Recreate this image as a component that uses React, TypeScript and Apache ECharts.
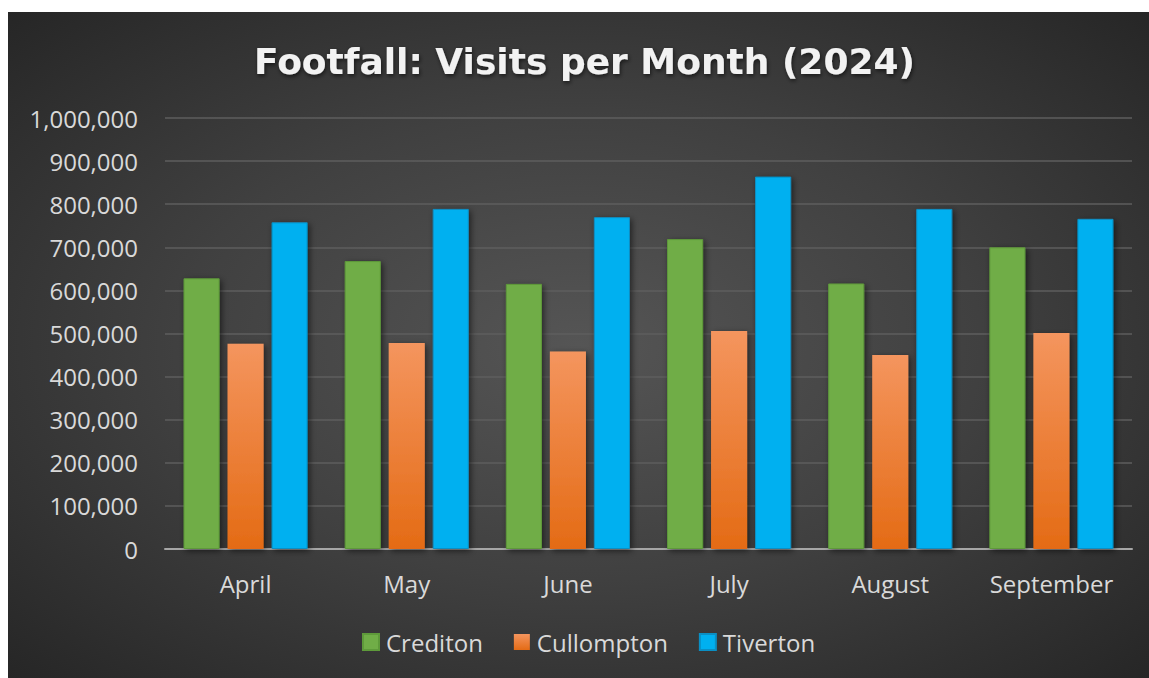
import React, { useEffect, useRef } from "react";
import * as echarts from "echarts";

const months = ["April", "May", "June", "July", "August", "September"];
const crediton = [628000, 668000, 615000, 719000, 616000, 700000];
const cullompton = [476000, 478000, 458000, 506000, 450000, 501000];
const tiverton = [758000, 789000, 770000, 864000, 789000, 766000];
const yTicks = { min: 0, max: 1000000, interval: 100000 };

const FONT = "'Open Sans', 'Noto Sans', sans-serif";

export default function App() {
  const ref = useRef<HTMLDivElement>(null);
  useEffect(() => {
    if (!ref.current) return;
    const chart = echarts.init(ref.current, undefined, { renderer: "svg" });
    const shadow = {
      shadowBlur: 6,
      shadowColor: "rgba(0,0,0,0.55)",
      shadowOffsetX: 2,
      shadowOffsetY: 2,
    };
    const orangeGrad = new echarts.graphic.LinearGradient(0, 0, 0, 1, [
      { offset: 0, color: "#f4955e" },
      { offset: 1, color: "#e46b15" },
    ]);
    chart.setOption({
      animation: false,
      backgroundColor: "transparent",
      title: {
        text: "Footfall: Visits per Month (2024)",
        left: 241,
        top: 26,
        textStyle: {
          color: "#f2f2f2",
          fontFamily: "'DejaVu Sans', sans-serif",
          fontWeight: "bold",
          fontSize: 36,
          textShadowColor: "rgba(0,0,0,0.6)",
          textShadowBlur: 4,
          textShadowOffsetX: 1,
          textShadowOffsetY: 2,
        },
      },
      grid: { left: 157, right: 17, top: 106, bottom: 129 },
      legend: {
        bottom: 19,
        left: 349,
        itemWidth: 16,
        itemHeight: 16,
        itemGap: 31,
        icon: "rect",
        textStyle: { color: "#d9d9d9", fontFamily: FONT, fontSize: 24, padding: [0, 0, 0, 2] },
        data: ["Crediton", "Cullompton", "Tiverton"],
      },
      xAxis: {
        type: "category",
        data: months,
        axisTick: { show: false },
        axisLine: { lineStyle: { color: "#a6a6a6", width: 2 } },
        axisLabel: { color: "#d9d9d9", fontFamily: FONT, fontSize: 24, margin: 22 },
      },
      yAxis: {
        type: "value",
        min: yTicks.min,
        max: yTicks.max,
        interval: yTicks.interval,
        axisLine: { show: false },
        axisTick: { show: false },
        splitLine: { lineStyle: { color: "#5e5e5e", width: 1.5 } },
        axisLabel: {
          color: "#d9d9d9",
          fontFamily: FONT,
          fontSize: 24,
          margin: 27,
          formatter: (v: number) => v.toLocaleString("en-US"),
        },
      },
      series: [
        {
          name: "Crediton",
          type: "bar",
          data: crediton,
          barGap: "22%",
          barCategoryGap: "23%",
          itemStyle: { color: "#70ad47", borderColor: "#5e9a3a", borderWidth: 1, ...shadow },
        },
        {
          name: "Cullompton",
          type: "bar",
          data: cullompton,
          itemStyle: { color: orangeGrad, ...shadow },
        },
        {
          name: "Tiverton",
          type: "bar",
          data: tiverton,
          itemStyle: { color: "#00b0f0", borderColor: "#0a8fc4", borderWidth: 1, ...shadow },
        },
      ],
    });
    return () => chart.dispose();
  }, []);
  return (
    <div
      style={{
        position: "absolute",
        left: 8,
        top: 12,
        width: 1141,
        height: 666,
        background:
          "radial-gradient(ellipse farthest-corner at 50% 50%, #555555 0%, #404040 50%, #262626 100%)",
      }}
    >
      <div ref={ref} style={{ width: "100%", height: "100%" }} />
    </div>
  );
}
